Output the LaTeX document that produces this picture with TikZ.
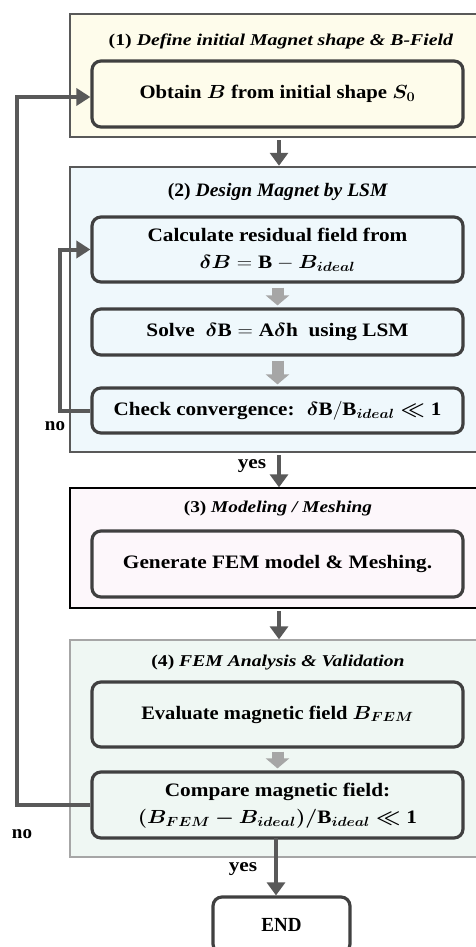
\RequirePackage{fix-cm}
\documentclass[tikz,border=0pt]{standalone}
\usepackage{amsmath,bm,graphicx}
\usepackage{fontspec}
\setmainfont{Liberation Serif}
\usetikzlibrary{arrows.meta}
\definecolor{secA}{HTML}{FEFCEB}
\definecolor{secB}{HTML}{EFF8FC}
\definecolor{secC}{HTML}{FDF7FB}
\definecolor{secD}{HTML}{EFF7F3}
\definecolor{dgray}{HTML}{595959}
\definecolor{bgray}{HTML}{404040}
\definecolor{lgray}{HTML}{A6A6A6}
\newcommand{\hx}[2]{\scalebox{#1}[1]{#2}}
\newcommand{\two}[2]{\begin{tabular}{@{}c@{}}#1\\#2\end{tabular}}
\tikzset{
  sec/.style={draw=dgray, line width=2.5pt, inner sep=0pt, minimum width=418pt},
  stepbox/.style={draw=bgray, line width=3.2pt, rounded corners=9pt, inner sep=0pt,
     minimum width=371pt, align=center, font=\fontsize{19}{27}\selectfont\bfseries},
  ttl/.style={font=\fontsize{16.5}{19}\selectfont\bfseries},
  flow/.style={draw=dgray, line width=4pt, -{Triangle[width=18pt,length=13pt]}},
  loopline/.style={draw=dgray, line width=4pt, -{Triangle[width=17pt,length=14pt]}},
  blk/.style={draw=lgray, line width=12pt, -{Triangle[width=23pt,length=10pt]}},
  lbl/.style={font=\fontsize{19}{21}\selectfont\bfseries}
}
\begin{document}
\begin{tikzpicture}[x=1pt,y=-1pt]
\useasboundingbox (0,0) rectangle (476,947);
% sections
\node[sec, fill=secA, minimum height=123pt] (s1) at (279,75.5) {};
\node[sec, fill=secB, minimum height=285pt] (s2) at (279,309.5) {};
\node[sec, draw=black, line width=1.3pt, fill=secC, minimum height=120pt] (s3) at (279,548) {};
\node[sec, draw=lgray, line width=1.3pt, fill=secD, minimum height=217pt] (s4) at (279,748.5) {};
% titles
\node[ttl] (t1) at (281,41) {\hx{1.2}{(1) \textit{Define initial Magnet shape \& B-Field}}};
\node[ttl, font=\fontsize{19}{21}\selectfont\bfseries] (t2) at (278,192) {\hx{1.03}{(2) \textit{Design Magnet by LSM}}};
\node[ttl] (t3) at (278,509) {\hx{1.17}{(3) \textit{Modeling / Meshing}}};
\node[ttl] (t4) at (278,663) {\hx{1.19}{(4) \textit{FEM Analysis \& Validation}}};
% steps
\node[stepbox, fill=secA, minimum height=66pt] (a1) at (277.5,94) {\raisebox{-2pt}{\hx{1.09}{Obtain $\bm{B}$ from initial shape $\bm{S_0}$}}};
\node[stepbox, fill=secB, minimum height=65pt] (b1) at (277.5,249.5) {\hx{1.12}{\two{Calculate residual field from}{$\bm{\delta B} = \mathbf{B} - \bm{B_{ideal}}$}}};
\node[stepbox, fill=secB, minimum height=46pt] (b2) at (277.5,332) {\hx{1.12}{Solve \ $\bm{\delta}\mathbf{B} = \mathbf{A}\bm{\delta}\mathbf{h}$ \ using LSM}};
\node[stepbox, fill=secB, minimum height=45pt] (b3) at (277.5,410.5) {\hx{1.11}{Check convergence: \ $\bm{\delta}\mathbf{B}/\mathbf{B}_{\bm{ideal}} \bm{\ll} \mathbf{1}$}};
\node[stepbox, fill=secC, minimum height=66pt] (c1) at (277.5,564) {\hx{1.12}{Generate FEM model \& Meshing.}};
\node[stepbox, fill=secD, minimum height=65pt] (d1) at (277.5,714.5) {\hx{1.08}{Evaluate magnetic field $\bm{B_{FEM}}$}};
\node[stepbox, fill=secD, minimum height=66pt] (d2) at (277.5,805) {\hx{1.12}{\two{Compare magnetic field:}{$\bm{(B_{FEM} - B_{ideal})/}\mathbf{B}_{\bm{ideal}} \bm{\ll} \mathbf{1}$}}};
\node[stepbox, fill=white, minimum width=137pt, minimum height=56pt, font=\fontsize{20}{22}\selectfont\bfseries] (e) at (281.5,925) {\hx{0.95}{END}};
% main arrows
\coordinate (p1) at (279,140);
\coordinate (p2) at (279,455);
\coordinate (p3) at (279,611);
\draw[flow] (p1) -- (s2.north -| p1);
\draw[flow] (p2) -- (s3.north -| p2);
\draw[flow] (p3) -- (s4.north -| p3);
\coordinate (p4) at (276,838);
\draw[flow] (p4) -- (e.north -| p4);
\node[lbl] (y1) at (252,466) {\hx{1.12}{yes}};
\node[lbl] (y2) at (243,869) {\hx{1.12}{yes}};
% grey arrows
\draw[blk] ([yshift=-4pt]b1.south) -- ([yshift=2pt]b2.north);
\draw[blk] ([yshift=-4pt]b2.south) -- ([yshift=2pt]b3.north);
\draw[blk] ([yshift=-3pt]d1.south) -- ([yshift=2pt]d2.north);
% loops
\coordinate (l1) at (60,410.5);
\coordinate (l2) at (60,249.5);
\draw[loopline] (b3.west) -- (l1) -- (l2) -- (b1.west);
\node[lbl] (n1) at (55,426) {no};
\coordinate (L1) at (17,805);
\coordinate (L2) at (17,97);
\draw[loopline] (d2.west) -- (L1) -- (L2) -- (a1.west |- L2);
\node[lbl] (n2) at (22,834) {no};
\end{tikzpicture}
\end{document}
